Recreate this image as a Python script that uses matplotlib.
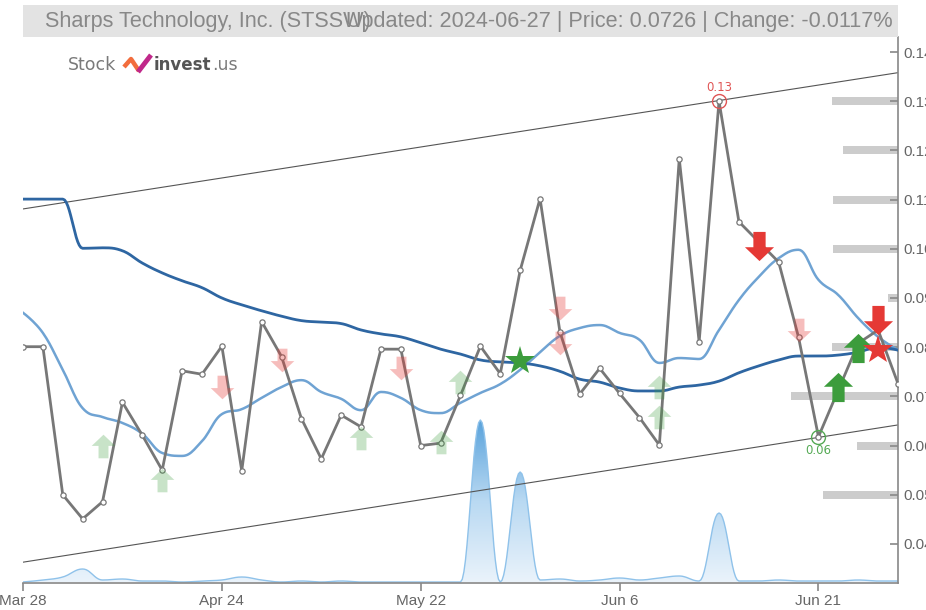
import numpy as np
import matplotlib
matplotlib.use('Agg')
import matplotlib.pyplot as plt
from matplotlib.path import Path
from matplotlib.colors import LinearSegmentedColormap
from matplotlib.patches import Rectangle
from matplotlib.lines import Line2D

plt.rcParams['font.family'] = ['Liberation Sans Narrow', 'Liberation Sans', 'DejaVu Sans']

# ---- data ----
tick_pos = [0, 10, 20, 30, 40]
tick_labels = ['Mar 28', 'Apr 24', 'May 22', 'Jun 6', 'Jun 21']

price = [0.0801, 0.0801, 0.0500, 0.0451, 0.0486, 0.0688, 0.0621, 0.0550, 0.0752, 0.0745,
         0.0802, 0.0549, 0.0852, 0.0781, 0.0655, 0.0573, 0.0662, 0.0638, 0.0796, 0.0796,
         0.0600, 0.0605, 0.0702, 0.0802, 0.0746, 0.0956, 0.1102, 0.0831, 0.0705, 0.0757,
         0.0706, 0.0657, 0.0601, 0.1183, 0.0811, 0.1300, 0.1055, 0.1014, 0.0973, 0.0820,
         0.0618, 0.0713, 0.0808, 0.0835, 0.0726]

ma_long = [0.1101, 0.1101, 0.1101, 0.1001, 0.1002, 0.0996, 0.0971, 0.0951, 0.0935, 0.0921,
           0.0900, 0.0886, 0.0874, 0.0863, 0.0854, 0.0851, 0.0848, 0.0835, 0.0827, 0.0821,
           0.0809, 0.0796, 0.0786, 0.0774, 0.0770, 0.0768, 0.0762, 0.0751, 0.0735, 0.0729,
           0.0717, 0.0711, 0.0711, 0.0719, 0.0723, 0.0731, 0.0748, 0.0762, 0.0774, 0.0782,
           0.0782, 0.0784, 0.0790, 0.0800, 0.0794]

ma_short = [0.0870, 0.0829, 0.0754, 0.0676, 0.0658, 0.0646, 0.0624, 0.0585, 0.0579, 0.0609,
            0.0664, 0.0674, 0.0697, 0.0719, 0.0733, 0.0709, 0.0695, 0.0672, 0.0709, 0.0697,
            0.0672, 0.0666, 0.0687, 0.0707, 0.0725, 0.0754, 0.0790, 0.0823, 0.0839, 0.0845,
            0.0829, 0.0815, 0.0768, 0.0778, 0.0776, 0.0835, 0.0896, 0.0943, 0.0981, 0.0998,
            0.0937, 0.0906, 0.0859, 0.0821, 0.0794]

volume = [0, 20, 50, 130, 20, 30, 10, 10, 0, 10,
          20, 50, 20, 0, 10, 0, 10, 0, 0, 0,
          0, 0, 0, 1620, 0, 1100, 20, 30, 10, 20,
          40, 20, 40, 60, 10, 690, 10, 10, 20, 10,
          10, 10, 20, 10, 10]

trend_x = [0, 44]
trend_upper = [0.1081, 0.1358]
trend_lower = [0.0363, 0.0642]

level_y = [0.13, 0.12, 0.11, 0.10, 0.09, 0.08, 0.07, 0.06, 0.05]
level_w = [3.3, 2.75, 3.25, 3.25, 0.5, 3.3, 5.4, 2.05, 3.75]

buy_weak_x = [4, 7, 17, 21, 22, 32, 32]
buy_weak_y = [0.0599, 0.0530, 0.0615, 0.0608, 0.0730, 0.0720, 0.0659]
sell_weak_x = [10, 13, 19, 27, 27, 39]
sell_weak_y = [0.0720, 0.0774, 0.0757, 0.0879, 0.0808, 0.0835]
buy_x = [41, 42]
buy_y = [0.0720, 0.0798]
sell_x = [37, 43]
sell_y = [0.1006, 0.0855]
star_buy = (25, 0.0771)
star_sell = (43, 0.0794)

title_left = 'Sharps Technology, Inc. (STSSW)'
title_right = 'Updated: 2024-06-27 | Price: 0.0726 | Change: -0.0117%'


def hc_spline(x, y, n=14):
    # bezier smoothing of the kind used by areaspline charts
    x = np.asarray(x, float)
    y = np.asarray(y, float)
    N = len(x)
    lc = [(x[i], y[i]) for i in range(N)]
    rc = [(x[i], y[i]) for i in range(N)]
    for i in range(1, N - 1):
        lx = (1.5 * x[i] + x[i - 1]) / 2.5
        ly = (1.5 * y[i] + y[i - 1]) / 2.5
        rx = (1.5 * x[i] + x[i + 1]) / 2.5
        ry = (1.5 * y[i] + y[i + 1]) / 2.5
        corr = (ry - ly) * (rx - x[i]) / (rx - lx) + y[i] - ry
        ly += corr
        ry += corr
        if ly > y[i - 1] and ly > y[i]:
            ly = max(y[i - 1], y[i]); ry = 2 * y[i] - ly
        elif ly < y[i - 1] and ly < y[i]:
            ly = min(y[i - 1], y[i]); ry = 2 * y[i] - ly
        if ry > y[i + 1] and ry > y[i]:
            ry = max(y[i + 1], y[i]); ly = 2 * y[i] - ry
        elif ry < y[i + 1] and ry < y[i]:
            ry = min(y[i + 1], y[i]); ly = 2 * y[i] - ry
        lc[i] = (lx, ly)
        rc[i] = (rx, ry)
    t = np.linspace(0, 1, n)[:, None]
    out = []
    for i in range(N - 1):
        p0 = np.array([x[i], y[i]]); p3 = np.array([x[i + 1], y[i + 1]])
        c1 = np.array(rc[i]); c2 = np.array(lc[i + 1])
        seg = (1 - t) ** 3 * p0 + 3 * (1 - t) ** 2 * t * c1 + 3 * (1 - t) * t ** 2 * c2 + t ** 3 * p3
        out.append(seg if i == 0 else seg[1:])
    out = np.vstack(out)
    return out[:, 0], out[:, 1]


W, H = 926, 610
fig = plt.figure(figsize=(W / 100, H / 100), dpi=100)
L, R, B, T = 23, 898, 583, 37
rect = [L / W, (H - B) / H, (R - L) / W, (B - T) / H]

# volume in its own axes behind
axv = fig.add_axes(rect)
axv.set_axis_off()
idx = np.arange(len(price))
vx, vy = hc_spline(idx, volume)
fill = axv.fill_between(vx, 0, vy, color='none', lw=0)
cmap = LinearSegmentedColormap.from_list('vol', ['#eaf3fb', '#b9d9f2', '#5aa3dc'])
grad = np.linspace(0, 1, 256).reshape(-1, 1)
im = axv.imshow(grad, extent=[0, 44, 0, max(volume)], origin='lower', aspect='auto', cmap=cmap)
im.set_clip_path(fill.get_paths()[0], transform=axv.transData)
axv.plot(vx, vy, color='#8fc2ea', lw=1)
axv.set_xlim(0, 44)
axv.set_ylim(-10, 5450)

ax = fig.add_axes(rect)
ax.patch.set_visible(False)
ax.set_xlim(0, 44)
ax.set_ylim(0.03207, 0.14305)

# level bars on the right
ax.barh(level_y, level_w, left=[44 - w for w in level_w], height=0.0016, color='#cccccc', zorder=1)

# trend channel
ax.plot(trend_x, trend_upper, color='#555555', lw=0.8, zorder=2)
ax.plot(trend_x, trend_lower, color='#555555', lw=0.8, zorder=2)

# moving averages
sx, sy = hc_spline(idx, ma_short)
ax.plot(sx, sy, color='#6fa3d3', lw=1.8, zorder=3)
lx, ly = hc_spline(idx, ma_long)
ax.plot(lx, ly, color='#2e66a2', lw=2.0, zorder=3)

# price
ax.plot(idx, price, color='#777777', lw=2.0, marker='o', ms=3.8, mfc='white', mec='#777777', mew=0.9, zorder=5)

# arrows
up = Path([(0, 1), (1, 0.05), (0.42, 0.05), (0.42, -1), (-0.42, -1), (-0.42, 0.05), (-1, 0.05), (0, 1)], closed=True)
down = Path([(0, -1), (1, -0.05), (0.42, -0.05), (0.42, 1), (-0.42, 1), (-0.42, -0.05), (-1, -0.05), (0, -1)], closed=True)
ax.plot(buy_weak_x, buy_weak_y, ls='none', marker=up, ms=17, color='#3c9c3c', mew=0, alpha=0.28, zorder=6)
ax.plot(sell_weak_x, sell_weak_y, ls='none', marker=down, ms=17, color='#e53935', mew=0, alpha=0.33, zorder=6)
ax.plot(buy_x, buy_y, ls='none', marker=up, ms=21, color='#3c9c3c', mew=0, zorder=7)
ax.plot(sell_x, sell_y, ls='none', marker=down, ms=21, color='#e53935', mew=0, zorder=7)
ax.plot(*star_buy, marker='*', ms=22, color='#3c9c3c', mew=0, zorder=7)
ax.plot(*star_sell, marker='*', ms=22, color='#e53935', mew=0, zorder=7)

# recent high / low
imax = int(np.argmax(price[35:])) + 35
imin = int(np.argmin(price[35:])) + 35
ax.plot(imax, price[imax], marker='o', ms=10, mfc='none', mec='#e05555', mew=1, zorder=8)
ax.annotate(f'{price[imax]:.2f}', (imax, price[imax]), xytext=(0, 5), textcoords='offset points',
            ha='center', va='bottom', color='#e05555', fontsize=8.5, family=['DejaVu Sans'])
ax.plot(imin, price[imin], marker='o', ms=10, mfc='none', mec='#55aa55', mew=1, zorder=8)
ax.annotate(f'{price[imin]:.2f}', (imin, price[imin]), xytext=(0, -5), textcoords='offset points',
            ha='center', va='top', color='#55aa55', fontsize=8.5, family=['DejaVu Sans'])

# axes styling
for s in ['left', 'top']:
    ax.spines[s].set_visible(False)
for s in ['right', 'bottom']:
    ax.spines[s].set_color('#888888')
    ax.spines[s].set_linewidth(1.2)
ax.yaxis.tick_right()
yt = np.round(np.arange(0.04, 0.1401, 0.01), 2)
ax.set_yticks(yt)
ax.set_yticklabels([f'{v:.2f}' for v in yt])
ax.set_xticks(tick_pos)
ax.set_xticklabels(tick_labels)
ax.tick_params(axis='y', direction='in', length=6, width=1.2, color='#888888', labelcolor='#666666', labelsize=11, pad=4)
ax.tick_params(axis='x', direction='out', length=6, width=1.2, color='#888888', labelcolor='#666666', labelsize=11, pad=2)

# title bar
fig.patches.append(Rectangle((23 / W, 1 - 37 / H), (898 - 23) / W, 32 / H, transform=fig.transFigure,
                             facecolor='#e3e3e3', edgecolor='none', zorder=0))
fig.text(45 / W, 1 - 22 / H, title_left, ha='left', va='center', fontsize=15.6, color='#888888')
fig.text(893 / W, 1 - 22 / H, title_right, ha='right', va='center', fontsize=15.6, color='#888888')

# logo
fig.text(68 / W, 1 - 65 / H, 'Stock', ha='left', va='center', fontsize=12.5, color='#7a7a7a', family=['DejaVu Sans'])
fig.add_artist(Line2D([124 / W, 131 / W, 139 / W], [1 - 67 / H, 1 - 59 / H, 1 - 71 / H],
                      transform=fig.transFigure, color='#f26d3d', lw=3.2, solid_capstyle='butt'))
fig.add_artist(Line2D([138 / W, 151 / W], [1 - 72 / H, 1 - 55 / H],
                      transform=fig.transFigure, color='#c0288a', lw=3.5, solid_capstyle='butt'))
fig.text(154 / W, 1 - 65 / H, 'invest', ha='left', va='center', fontsize=12, fontweight='bold', color='#555555', family=['DejaVu Sans'])
fig.text(212 / W, 1 - 65 / H, '.us', ha='left', va='center', fontsize=12.5, color='#7a7a7a', family=['DejaVu Sans'])

fig.savefig('out.png', dpi=100)
